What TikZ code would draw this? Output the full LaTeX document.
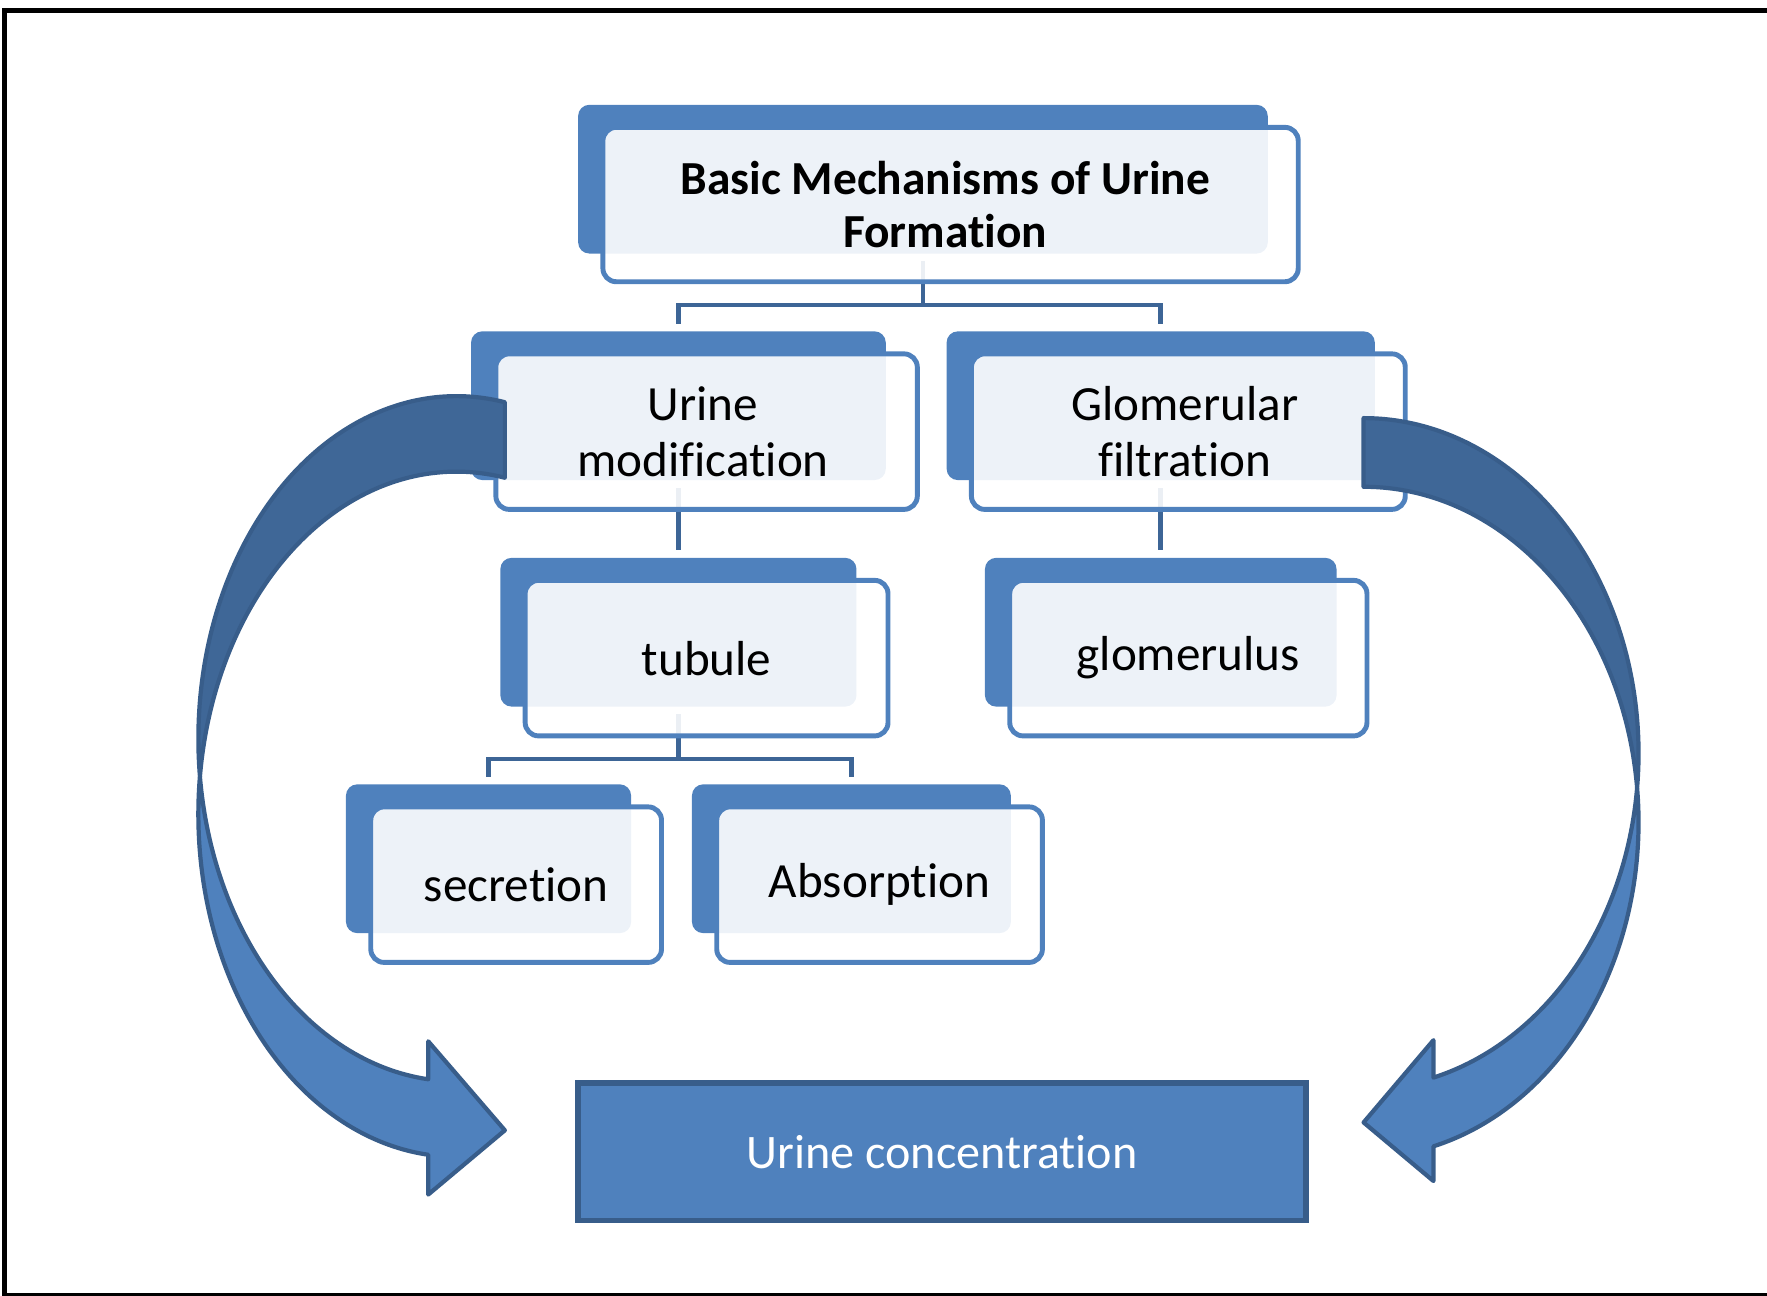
\documentclass[tikz,border=0pt]{standalone}
\usepackage{fontspec}
\setmainfont{Carlito}[Ligatures=NoCommon]
\usetikzlibrary{fit}

\begin{document}
\begin{tikzpicture}[x=0.011269cm, y=-0.011269cm,
    backbox/.style={fill=box_blue, rounded corners=3.2pt, inner sep=0pt},
    frontbox/.style={draw=box_blue, line width=1.4pt, fill=white, fill opacity=0.9,
        rounded corners=3.8pt, inner sep=0pt},
    boxtext/.style={align=center, font=\fontsize{14}{16}\selectfont},
    link/.style={draw=link_blue, line width=1.3pt, shorten <=2pt, shorten >=2pt},
    concbox/.style={fill=box_blue, draw=box_border, line width=1.5pt, inner sep=0pt},
    arrowdark/.style={fill=arrow_dark, draw=box_border, line width=1.2pt, line join=round},
    arrowlight/.style={fill=box_blue, draw=box_border, line width=1.2pt, line join=round},
    frameline/.style={draw=black, line width=1.42pt}]
    \definecolor{box_blue}{HTML}{4F81BD}
    \definecolor{box_border}{HTML}{385D8A}
    \definecolor{arrow_dark}{HTML}{3F6797}
    \definecolor{link_blue}{HTML}{3D6596}
    \useasboundingbox (0,0) rectangle (1568,1150);
    %\draw[help lines, step=50] (0,0) grid (1568,1150);
    \draw[frameline] (1590,9.6) -- (4.3,9.6) -- (4.3,1149.6) -- (1590,1149.6);

    % back shapes
    \node[backbox, fit={(513,93) (1125,225)}] (topb) {};
    \node[backbox, fit={(418,294) (786,426)}] (umodb) {};
    \node[backbox, fit={(840,294) (1220,426)}] (gfiltb) {};
    \node[backbox, fit={(444,495) (760,627)}] (tubb) {};
    \node[backbox, fit={(874,495) (1186,627)}] (glomb) {};
    \node[backbox, fit={(307,696) (560,828)}] (secrb) {};
    \node[backbox, fit={(614,696) (897,828)}] (absb) {};

    % tree lines
    \draw[link] (topb.south) -- ++(0,45) -| (umodb.north);
    \draw[link] (topb.south) -- ++(0,45) -| (gfiltb.north);
    \draw[link] (umodb.south) -- (tubb.north);
    \draw[link] (gfiltb.south) -- (glomb.north);
    \draw[link] (tubb.south) -- ++(0,46) -| (secrb.north);
    \draw[link] (tubb.south) -- ++(0,46) -| (absb.north);

    % front shapes
    \node[frontbox, fit={(535,113) (1152,250)}] (topf) {};
    \node[frontbox, fit={(440,314) (814,452)}] (umodf) {};
    \node[frontbox, fit={(862,314) (1247,452)}] (gfiltf) {};
    \node[frontbox, fit={(466,515) (788,653)}] (tubf) {};
    \node[frontbox, fit={(896,515) (1213,653)}] (glomf) {};
    \node[frontbox, fit={(329,716) (587,854)}] (secrf) {};
    \node[frontbox, fit={(636,716) (925,854)}] (absf) {};
    \node[concbox, fit={(513,961) (1159,1083)}] (conc) {};

    % texts
    \node[boxtext, font=\fontsize{13.5}{15}\selectfont\bfseries] (topt) at ([xshift=-1.5pt]topf) {Basic Mechanisms of Urine\\Formation};
    \node[boxtext] (umodt) at ([xshift=-1pt]umodf) {Urine\\modification};
    \node[boxtext] (gfiltt) at ([xshift=-1pt]gfiltf) {Glomerular\\filtration};
    \node[boxtext] (tubt) at (tubf) {tubule};
    \node[boxtext] (glomt) at (glomf) {glomerulus};
    \node[boxtext] (secrt) at (secrf) {secretion};
    \node[boxtext] (abst) at (absf) {Absorption};
    \node[boxtext, text=white, font=\fontsize{13.7}{16}\selectfont] (conct) at (conc) {Urine concentration};

    % curved arrows
    \path[arrowdark] (448,356.9) arc[start angle=280.82, end angle=173.67, x radius=229, y radius=304]
        arc[start angle=186.33, end angle=280.82, x radius=229, y radius=304] -- cycle;
    \path[arrowlight] (177.4,689) arc[start angle=186.33, end angle=96.27, x radius=229, y radius=304]
        -- (380,1060) -- (448,1003) -- (380,924) -- (380,957.7)
        arc[start angle=96.27, end angle=173.67, x radius=229, y radius=304] -- cycle;
    \path[arrowdark] (1210,371) arc[start angle=270, end angle=365.88, x radius=244, y radius=297.5]
        arc[start angle=354.12, end angle=270, x radius=244, y radius=297.5] -- cycle;
    \path[arrowlight] (1452.7,699) arc[start angle=-5.88, end angle=75.28, x radius=244, y radius=297.5]
        -- (1272,1048) -- (1210,996) -- (1272,923) -- (1272,956.2)
        arc[start angle=75.28, end angle=5.88, x radius=244, y radius=297.5] -- cycle;

\end{tikzpicture}
\end{document}
